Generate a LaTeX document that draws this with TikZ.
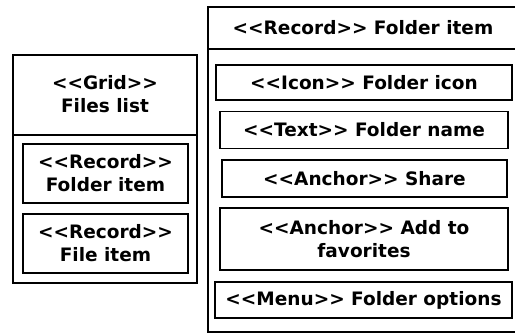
\documentclass[tikz,border=0pt]{standalone}
\usepackage{fontspec}
\setmainfont{DejaVu Sans}
\begin{document}
\begin{tikzpicture}[x=1pt,y=-1pt,
  frame/.style={draw, line width=1.7pt, inner sep=0pt},
  item/.style={draw, line width=1.7pt, inner sep=0pt, font=\bfseries\fontsize{18.5}{23}\selectfont, align=center},
  ttl/.style={font=\bfseries\fontsize{18.5}{23}\selectfont, align=center, inner sep=0pt}]
\useasboundingbox (0,0) rectangle (515,333);
\clip (0,0) rectangle (515,333);
% left container
\node[frame, minimum width=184pt, minimum height=228pt] (gridbox) at (105,169) {};
\draw[line width=1.7pt] (13,135) -- (197,135);
\node[ttl] (gridttl) at (105,94) {<{}<Grid>{}>\\Files list};
\node[item, minimum width=165pt, minimum height=59pt] (rfolder) at (105.5,173.5) {<{}<Record>{}>\\Folder item};
\node[item, minimum width=165pt, minimum height=59pt] (rfile) at (105.5,243.5) {<{}<Record>{}>\\File item};
% right container
\node[frame, minimum width=312pt, minimum height=325pt] (recbox) at (364,169.5) {};
\draw[line width=1.7pt] (208,49) -- (520,49);
\node[ttl] (recttl) at (363,28) {<{}<Record>{}> Folder item};
\node[item, minimum width=296pt, minimum height=35pt] (icon) at (364,82.5) {<{}<Icon>{}> Folder icon};
\node[item, minimum width=288pt, minimum height=37pt] (text) at (364,130) {<{}<Text>{}> Folder name};
\node[item, minimum width=285pt, minimum height=37pt] (share) at (364.5,178.5) {<{}<Anchor>{}> Share};
\node[item, minimum width=288pt, minimum height=62pt] (fav) at (364,239) {<{}<Anchor>{}> Add to\\favorites};
\node[item, minimum width=297pt, minimum height=36pt] (menu) at (363.5,300) {<{}<Menu>{}> Folder options};
\end{tikzpicture}
\end{document}
